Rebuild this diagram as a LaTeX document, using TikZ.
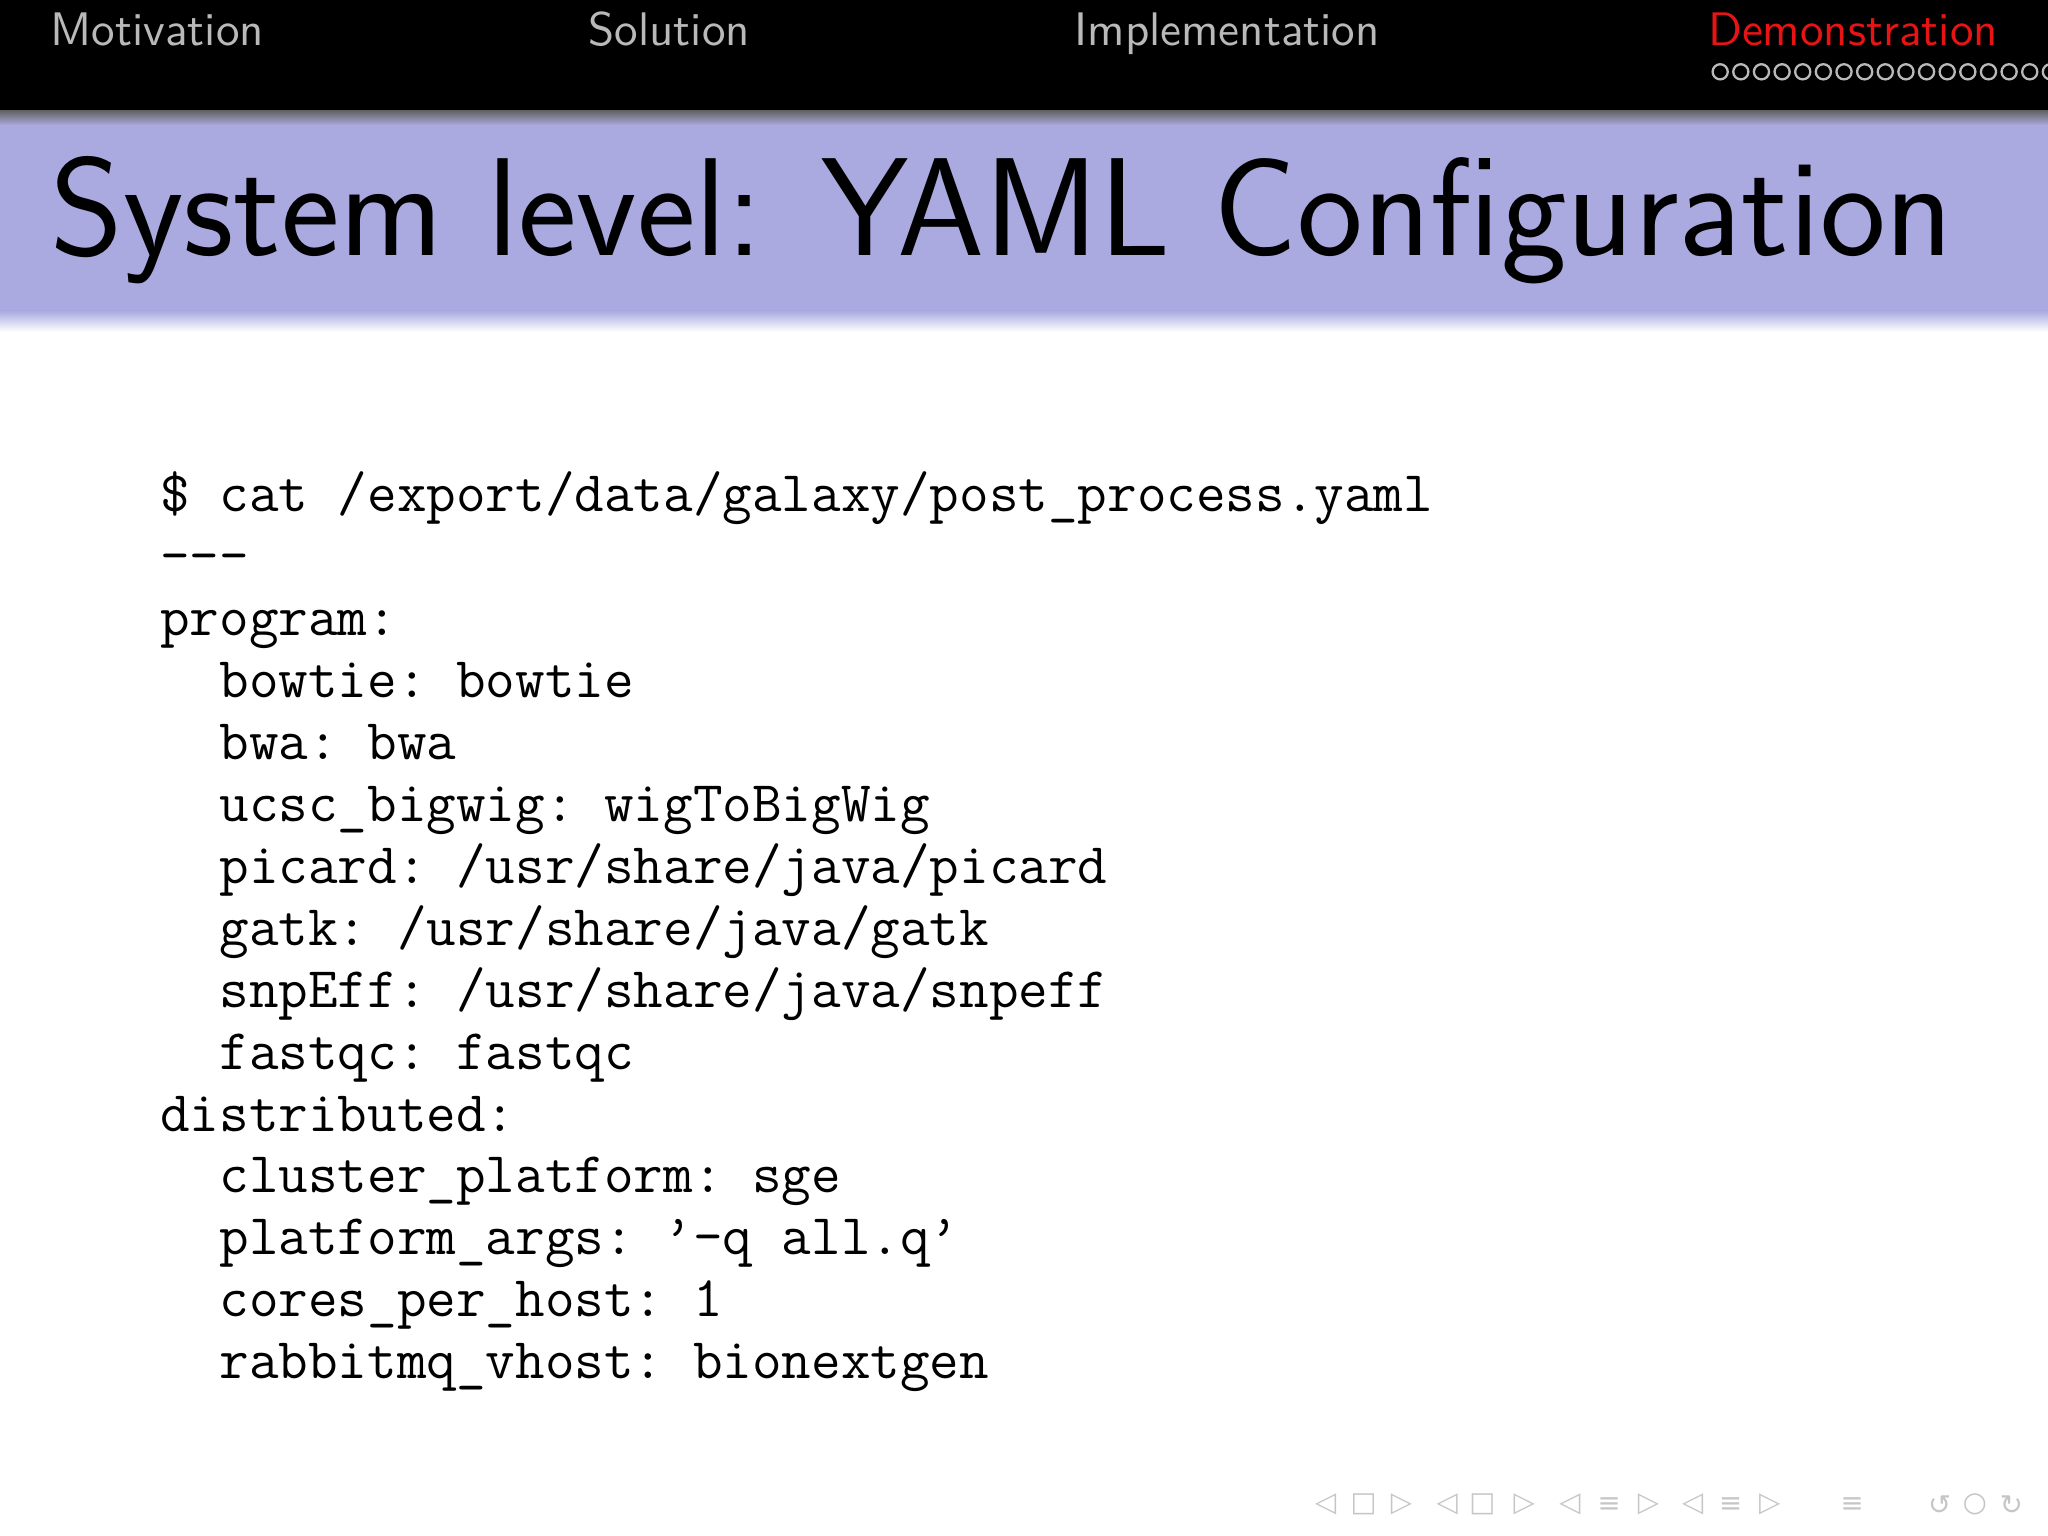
\documentclass[tikz,border=0pt]{standalone}
\usepackage{fontspec}
\newfontfamily\navfont{DejaVu Sans}
\usepackage{xcolor}
\usetikzlibrary{positioning}
\definecolor{framepurple}{RGB}{170,170,224}
\definecolor{sectiongray}{RGB}{185,185,185}
\definecolor{sectionred}{RGB}{230,20,20}
\tikzset{
  section/.style={anchor=base west, inner sep=0pt, font=\sffamily\fontsize{10.25}{12}\selectfont, text=sectiongray},
  codeline/.style={anchor=base west, inner sep=0pt, font=\ttfamily\fontsize{12.52}{14}\selectfont\frenchspacing},
  navicon/.style={inner sep=0pt, text=gray!45, font=\navfont\fontsize{6}{7}\selectfont}
}

\begin{document}
\begin{tikzpicture}
\useasboundingbox (0,0) rectangle (15.68,11.76);
\fill[white] (0,0) rectangle (15.68,11.76);

% Header bar
\fill[black] (0,10.91) rectangle (15.68,11.76);
\node (motivation) [section] at (0.38,11.41) {Motivation};
\node (solution) [section] at (4.50,11.41) {Solution};
\node (implementation) [section] at (8.22,11.41) {Implementation};
\node (demonstration) [section, text=sectionred] at (13.07,11.41) {Demonstration};
\foreach \k in {0,...,16}
  \draw[sectiongray, line width=0.5pt] (13.17+0.158*\k,11.21) circle (0.058);

% Title band
\shade[top color=black!60, bottom color=framepurple] (0,10.91) rectangle (15.68,10.80);
\fill[framepurple] (0,10.80) rectangle (15.68,9.38);
\shade[top color=framepurple, bottom color=white] (0,9.38) rectangle (15.68,9.22);
\node (title) [anchor=base west, inner sep=0pt, font=\sffamily\fontsize{30.4}{34}\selectfont] at (0.38,9.80) {System level: YAML Configuration};

% Code listing
\foreach [count=\i from 0] \txt in {%
  {\$ cat /export/data/galaxy/post\_process.yaml},
  {-{}-{}-},
  {program:},
  {\ \ bowtie: bowtie},
  {\ \ bwa: bwa},
  {\ \ ucsc\_bigwig: wigToBigWig},
  {\ \ picard: /usr/share/java/picard},
  {\ \ gatk: /usr/share/java/gatk},
  {\ \ snpEff: /usr/share/java/snpeff},
  {\ \ fastqc: fastqc},
  {distributed:},
  {\ \ cluster\_platform: sge},
  {\ \ platform\_args: \textquoteright-q all.q\textquoteright},
  {\ \ cores\_per\_host: 1},
  {\ \ rabbitmq\_vhost: bionextgen}}
  \node (line\i) [codeline] at (1.22,7.84-0.474*\i) {\txt};

% Navigation symbols
\foreach \x/\s [count=\j] in {10.15/◁,10.44/□,10.73/▷,11.08/◁,11.35/□,11.67/▷,12.02/◁,12.32/≡,12.62/▷,12.96/◁,13.25/≡,13.55/▷,14.18/≡,14.85/↺,15.12/○,15.40/↻}
  \node (nav\j) [navicon] at (\x,0.24) {\s};
\end{tikzpicture}
\end{document}
